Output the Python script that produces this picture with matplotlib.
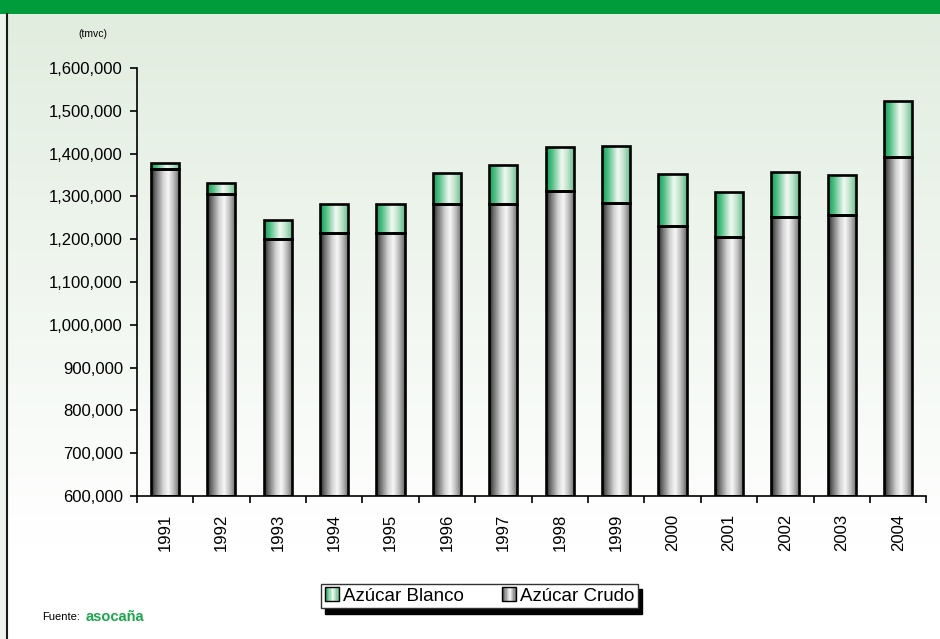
import numpy as np
import matplotlib
matplotlib.use("Agg")
import matplotlib.pyplot as plt
from matplotlib import font_manager
from matplotlib.colors import LinearSegmentedColormap
from matplotlib.patches import Rectangle
from matplotlib.legend_handler import HandlerBase

# data (tmvc)
years = ["1991", "1992", "1993", "1994", "1995", "1996", "1997",
         "1998", "1999", "2000", "2001", "2002", "2003", "2004"]
crudo = [1363000, 1305000, 1200000, 1214000, 1214000, 1282000, 1282000,
         1313000, 1285000, 1231000, 1204000, 1253000, 1256000, 1393000]
blanco = [15000, 26000, 45000, 68000, 68000, 73000, 92000,
          103000, 133000, 122000, 107000, 105000, 93000, 131000]
series_names = ["Azúcar Blanco", "Azúcar Crudo"]

# pick a narrow font if there is one
names = {f.name for f in font_manager.fontManager.ttflist}
if "Liberation Sans Narrow" in names:
    fam = ["Liberation Sans Narrow", "DejaVu Sans"]
    fs = 13
else:
    fam = ["Liberation Sans", "DejaVu Sans"]
    fs = 12
plt.rcParams["font.family"] = fam

gray_cmap = LinearSegmentedColormap.from_list("gray_cyl", [
    (0.0, "#222222"), (0.15, "#6a6a6a"), (0.42, "#d4d4d4"),
    (0.6, "#f7f7f7"), (0.8, "#b8b8b8"), (1.0, "#626262")])
green_cmap = LinearSegmentedColormap.from_list("green_cyl", [
    (0.0, "#00a457"), (0.2, "#4dbe7f"), (0.55, "#f2f9f3"),
    (0.75, "#bfe3cb"), (1.0, "#58bb82")])
grad = np.linspace(0, 1, 256).reshape(1, -1)

fig = plt.figure(figsize=(9.4, 6.39), dpi=100)

# background: header band, gradient panel, left border
bg = fig.add_axes([0, 0, 1, 1], zorder=-10)
bg.set_xlim(0, 940)
bg.set_ylim(639, 0)
bg.axis("off")
vgrad = np.linspace(0, 1, 256).reshape(-1, 1)
bg_cmap = LinearSegmentedColormap.from_list("bgc", [(0, "#e1eddf"), (0.85, "#ffffff"), (1, "#ffffff")])
bg.imshow(vgrad, cmap=bg_cmap, extent=(0, 940, 639, 13), aspect="auto")
bg.add_patch(Rectangle((0, 0), 940, 13.5, color="#009c3b", lw=0))
bg.add_patch(Rectangle((0, 13.5), 6, 626, color="#eef5ee", lw=0))
bg.plot([6.5, 6.5], [13.5, 639], color="#1a1a1a", lw=1.5)

ax = fig.add_axes([0.1455, 0.2238, 0.84, 0.6698])
ax.patch.set_alpha(0)

x = np.arange(len(years))
w = 0.5
bottom = 600000
for i in x:
    segs = [(bottom, crudo[i], gray_cmap), (crudo[i], crudo[i] + blanco[i], green_cmap)]
    for y0, y1, cm in segs:
        r = ax.bar(i, y1 - y0, bottom=y0, width=w, facecolor="none",
                   edgecolor="black", lw=1.9, zorder=3)[0]
        im = ax.imshow(grad, cmap=cm, extent=(i - w / 2, i + w / 2, y0, y1),
                       aspect="auto", zorder=2)
        im.set_clip_path(r)

ax.set_xlim(-0.5, len(years) - 0.5)
ax.set_ylim(600000, 1600000)
ax.set_yticks(np.arange(600000, 1600001, 100000))
ax.yaxis.set_major_formatter(matplotlib.ticker.FuncFormatter(lambda v, p: f"{v:,.0f}"))
ax.set_xticks(x)
ax.set_xticklabels(years, rotation=90)
ax.set_xticks(np.arange(-0.5, len(years)), minor=True)
ax.tick_params(axis="x", which="major", length=0, pad=13, labelsize=fs)
ax.tick_params(axis="x", which="minor", length=5, width=1.2, direction="out")
ax.tick_params(axis="y", length=5, width=1.2, pad=5, labelsize=fs)
for s in ["top", "right"]:
    ax.spines[s].set_visible(False)
for s in ["left", "bottom"]:
    ax.spines[s].set_linewidth(1.2)

fig.text(93 / 940, 1 - 34 / 639, "(tmvc)", fontsize=7.5, ha="center", va="center")
fig.text(42 / 940, 1 - 617 / 639, "Fuente:", fontsize=8, ha="left", va="center")
fig.text(86 / 940, 1 - 617 / 639, "asocaña", fontsize=10.5, fontweight="bold",
         color="#1aa64a", ha="left", va="center", family=["Liberation Sans", "DejaVu Sans"])


class GradHandler(HandlerBase):
    def __init__(self, cmap):
        super().__init__()
        self.cmap = cmap

    def create_artists(self, legend, orig_handle, xdescent, ydescent, width, height, fontsize, trans):
        arts = []
        n = 12
        side = height * 1.05
        x0 = -xdescent + (width - side) / 2
        y0 = -ydescent - (side - height) / 2
        for k in range(n):
            arts.append(Rectangle((x0 + side * k / n, y0), side / n, side,
                                  facecolor=self.cmap((k + 0.5) / n), lw=0, transform=trans))
        arts.append(Rectangle((x0, y0), side, side, facecolor="none",
                              edgecolor="black", lw=1.0, transform=trans))
        return arts


h1 = Rectangle((0, 0), 1, 1)
h2 = Rectangle((0, 0), 1, 1)
leg = fig.legend([h1, h2], series_names, loc="center", bbox_to_anchor=(0.51, 0.067),
                 ncol=2, fontsize=13.5, frameon=True, fancybox=False,
                 edgecolor="#333333", framealpha=1, borderpad=0.2,
                 handlelength=0.8, handletextpad=0.2, columnspacing=2.0,
                 handler_map={h1: GradHandler(green_cmap), h2: GradHandler(gray_cmap)},
                 shadow={"ox": 3, "oy": -4, "facecolor": "black", "edgecolor": "black", "alpha": 1})
leg.get_frame().set_linewidth(1.0)

fig.savefig("out.png", dpi=100)
